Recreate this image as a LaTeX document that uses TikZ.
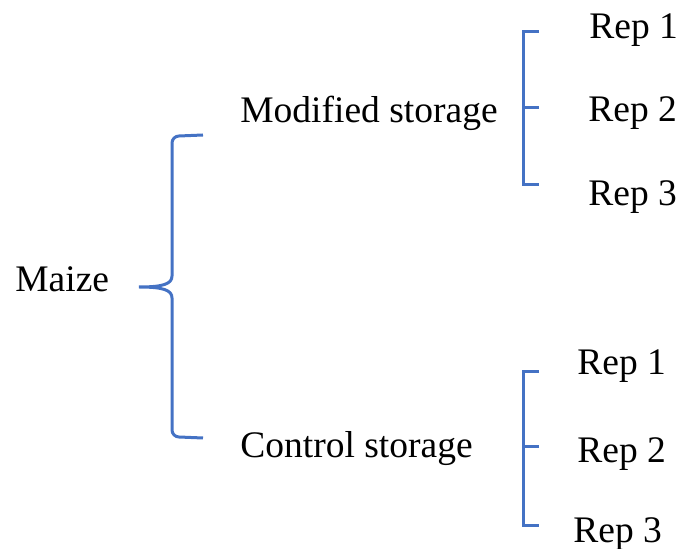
\documentclass[tikz,border=0pt]{standalone}
\usepackage{fontspec}
\setmainfont{Liberation Serif}
\usepackage{tikz}
\definecolor{braceblue}{RGB}{68,114,196}

\begin{document}
\begin{tikzpicture}[
            x=0.5pt, y=-0.5pt,
            lab/.style={anchor=base west, inner sep=0pt, font=\fontsize{18.75}{22}\selectfont},
            br/.style={draw=braceblue, line width=1.5pt}
        ]
        \useasboundingbox (0,0) rectangle (679,549);

        % labels
        \node[lab] (maize) at (15,292)  {Maize};
        \node[lab] (mod)   at (240,123) {Modified storage};
        \node[lab] (ctrl)  at (240,458) {Control storage};

        \node[lab] (mrep1) at (589,39)  {Rep 1};
        \node[lab] (mrep2) at (588,122) {Rep 2};
        \node[lab] (mrep3) at (588,206) {Rep 3};

        \node[lab] (crep1) at (577,375) {Rep 1};
        \node[lab] (crep2) at (577,463) {Rep 2};
        \node[lab] (crep3) at (573,542) {Rep 3};

        % coordinates
        \coordinate (tip)  at (139,287);
        \coordinate (btop) at (203,135);
        \coordinate (bbot) at (203,438);

        \coordinate (m1) at (539,32);
        \coordinate (m2) at (539,108);
        \coordinate (m3) at (539,185);

        \coordinate (c1) at (539,372);
        \coordinate (c2) at (539,447);
        \coordinate (c3) at (539,525);

        % big brace
        \draw[br] (btop) -- (179,136) to[out=180,in=90] (172,143) -- (172,276)
            .. controls (172,284) and (163,287) .. (tip)
            .. controls (163,287) and (172,290) .. (172,298) -- (172,430)
            to[out=-90,in=180] (179,437) -- (bbot);

        % small brackets
        \draw[br] (m1) -- ++(-16,0) |- (m3);
        \draw[br] (m2) -- ++(-16,0);
        \draw[br] (c1) -- ++(-16,0) |- (c3);
        \draw[br] (c2) -- ++(-16,0);
    \end{tikzpicture}
\end{document}
